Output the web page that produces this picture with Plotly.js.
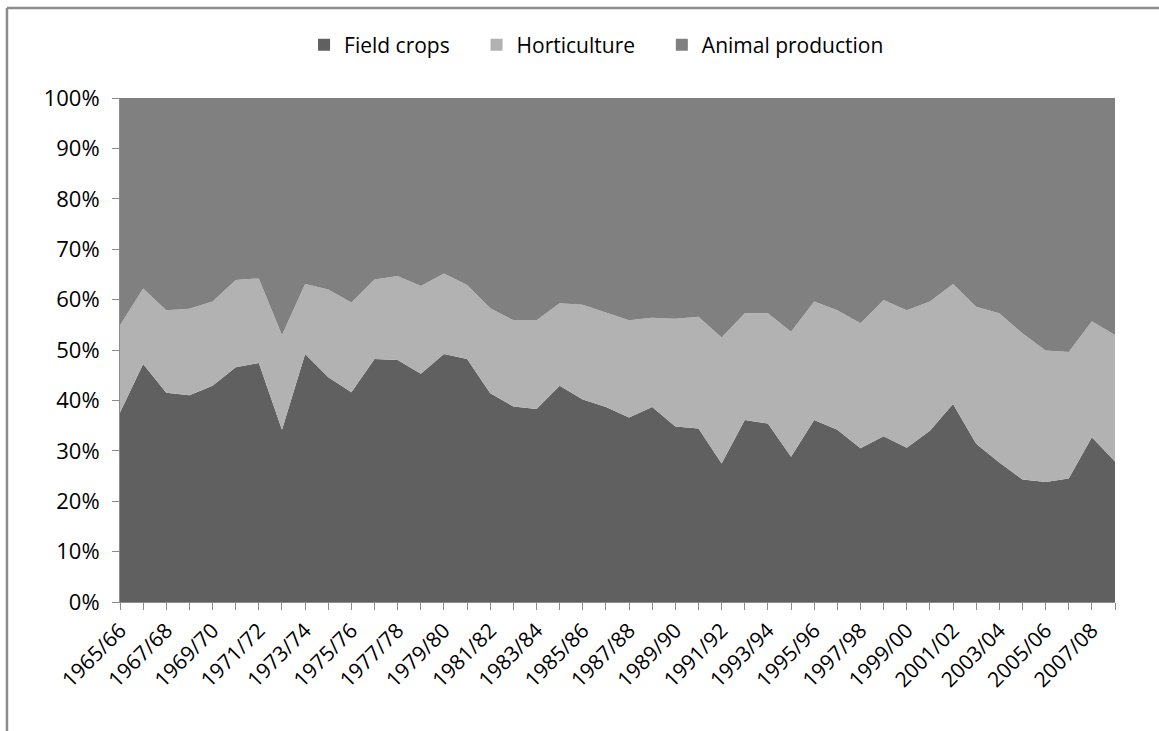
<!DOCTYPE html>
<html>
<head>
<meta charset="utf-8">
<script src="https://cdn.plot.ly/plotly-3.0.1.min.js"></script>
<style>
  html, body { margin: 0; padding: 0; background: #ffffff; }
  #chart { width: 1159px; height: 731px; }
</style>
</head>
<body>
<div id="chart"></div>
<script>
// Seasons (categories)
const seasons = [
  "1965/66","1966/67","1967/68","1968/69","1969/70","1970/71","1971/72","1972/73",
  "1973/74","1974/75","1975/76","1976/77","1977/78","1978/79","1979/80","1980/81",
  "1981/82","1982/83","1983/84","1984/85","1985/86","1986/87","1987/88","1988/89",
  "1989/90","1990/91","1991/92","1992/93","1993/94","1994/95","1995/96","1996/97",
  "1997/98","1998/99","1999/00","2000/01","2001/02","2002/03","2003/04","2004/05",
  "2005/06","2006/07","2007/08","2008/09"
];

// Shares (% of total)
const fieldCrops = [
  37.6, 47.2, 41.5, 41.0, 42.9, 46.6, 47.4, 34.2, 49.2, 44.6, 41.6, 48.2, 48.0, 45.3,
  49.2, 48.2, 41.4, 38.8, 38.3, 42.9, 40.2, 38.7, 36.6, 38.7, 34.8, 34.4, 27.5, 36.1,
  35.4, 28.8, 36.1, 34.2, 30.5, 32.9, 30.6, 34.0, 39.3, 31.4, 27.7, 24.3, 23.8, 24.5,
  32.7, 27.9
];
const horticulture = [
  17.3, 15.0, 16.4, 17.2, 16.7, 17.3, 16.8, 18.8, 13.9, 17.4, 17.8, 15.8, 16.7, 17.4,
  16.0, 14.7, 16.9, 17.1, 17.6, 16.4, 18.8, 18.8, 19.3, 17.7, 21.4, 22.2, 25.0, 21.2,
  21.9, 24.8, 23.5, 23.7, 24.8, 27.0, 27.3, 25.6, 23.8, 27.2, 29.6, 29.0, 26.1, 25.1,
  23.0, 25.1
];
const animalProduction = [
  45.1, 37.8, 42.1, 41.8, 40.4, 36.1, 35.8, 47.0, 36.9, 38.0, 40.6, 36.0, 35.3, 37.3,
  34.8, 37.1, 41.7, 44.1, 44.1, 40.7, 41.0, 42.5, 44.1, 43.6, 43.8, 43.4, 47.5, 42.7,
  42.7, 46.4, 40.4, 42.1, 44.7, 40.1, 42.1, 40.4, 36.9, 41.4, 42.7, 46.7, 50.1, 50.4,
  44.3, 47.0
];

const seriesNames = ["Field crops", "Horticulture", "Animal production"];
const seriesColors = ["#606060", "#b2b2b2", "#808080"];
const seriesValues = [fieldCrops, horticulture, animalProduction];

// Tick labels: every other season is labelled
const tickLabels = seasons.map((s, i) => (i % 2 === 0 ? s : ""));
const yTickVals = [0, 10, 20, 30, 40, 50, 60, 70, 80, 90, 100];
const yTickText = yTickVals.map(v => v + "%");

const FONT = "Open Sans, Noto Sans, sans-serif";

// Stacked areas
const areaTraces = seriesValues.map((vals, k) => ({
  type: "scatter",
  mode: "lines",
  x: seasons,
  y: vals,
  name: seriesNames[k],
  stackgroup: "one",
  groupnorm: k === 0 ? "percent" : undefined,
  line: { width: 0, color: seriesColors[k] },
  fillcolor: seriesColors[k],
  showlegend: false,
  hoverinfo: "x+y+name"
}));

// Legend-only entries (square swatches)
const legendTraces = seriesNames.map((n, k) => ({
  type: "bar",
  x: [seasons[0]],
  y: [null],
  name: n + "    ",
  marker: { color: seriesColors[k] },
  showlegend: true,
  hoverinfo: "skip"
}));

const layout = {
  width: 1159,
  height: 731,
  paper_bgcolor: "#ffffff",
  plot_bgcolor: "#ffffff",
  margin: { l: 120, r: 44, t: 98, b: 129, pad: 0 },
  showlegend: true,
  legend: {
    orientation: "h",
    x: 0.49, xanchor: "center",
    y: 1.105, yanchor: "middle",
    font: { family: FONT, size: 21, color: "#000000" },
    traceorder: "normal",
    itemwidth: 30,
    bgcolor: "rgba(0,0,0,0)"
  },
  xaxis: {
    type: "category",
    range: [0, seasons.length - 1],
    tickmode: "array",
    tickvals: seasons,
    ticktext: tickLabels,
    tickangle: -45,
    ticks: "outside",
    ticklen: 7,
    tickcolor: "#8c8c8c",
    showline: true,
    linecolor: "#8c8c8c",
    linewidth: 1,
    showgrid: false,
    zeroline: false,
    tickfont: { family: FONT, size: 21, color: "#000000" },
    fixedrange: true
  },
  yaxis: {
    range: [0, 100],
    tickmode: "array",
    tickvals: yTickVals,
    ticktext: yTickText,
    ticks: "outside",
    ticklen: 7,
    tickcolor: "#8c8c8c",
    ticklabelstandoff: 8,
    showline: true,
    linecolor: "#8c8c8c",
    linewidth: 1,
    showgrid: false,
    zeroline: false,
    tickfont: { family: FONT, size: 22, color: "#000000" },
    fixedrange: true
  },
  shapes: [
    { type: "line", xref: "paper", yref: "paper",
      x0: -0.1136, x1: 1.05, y0: 1.1786, y1: 1.1786,
      line: { color: "#8c8c8c", width: 2.5 } },
    { type: "line", xref: "paper", yref: "paper",
      x0: -0.1136, x1: -0.1136, y0: 1.1786, y1: -0.26,
      line: { color: "#8c8c8c", width: 2.5 } }
  ]
};

Plotly.newPlot("chart", areaTraces.concat(legendTraces), layout, { displayModeBar: false, staticPlot: true });
</script>
</body>
</html>
